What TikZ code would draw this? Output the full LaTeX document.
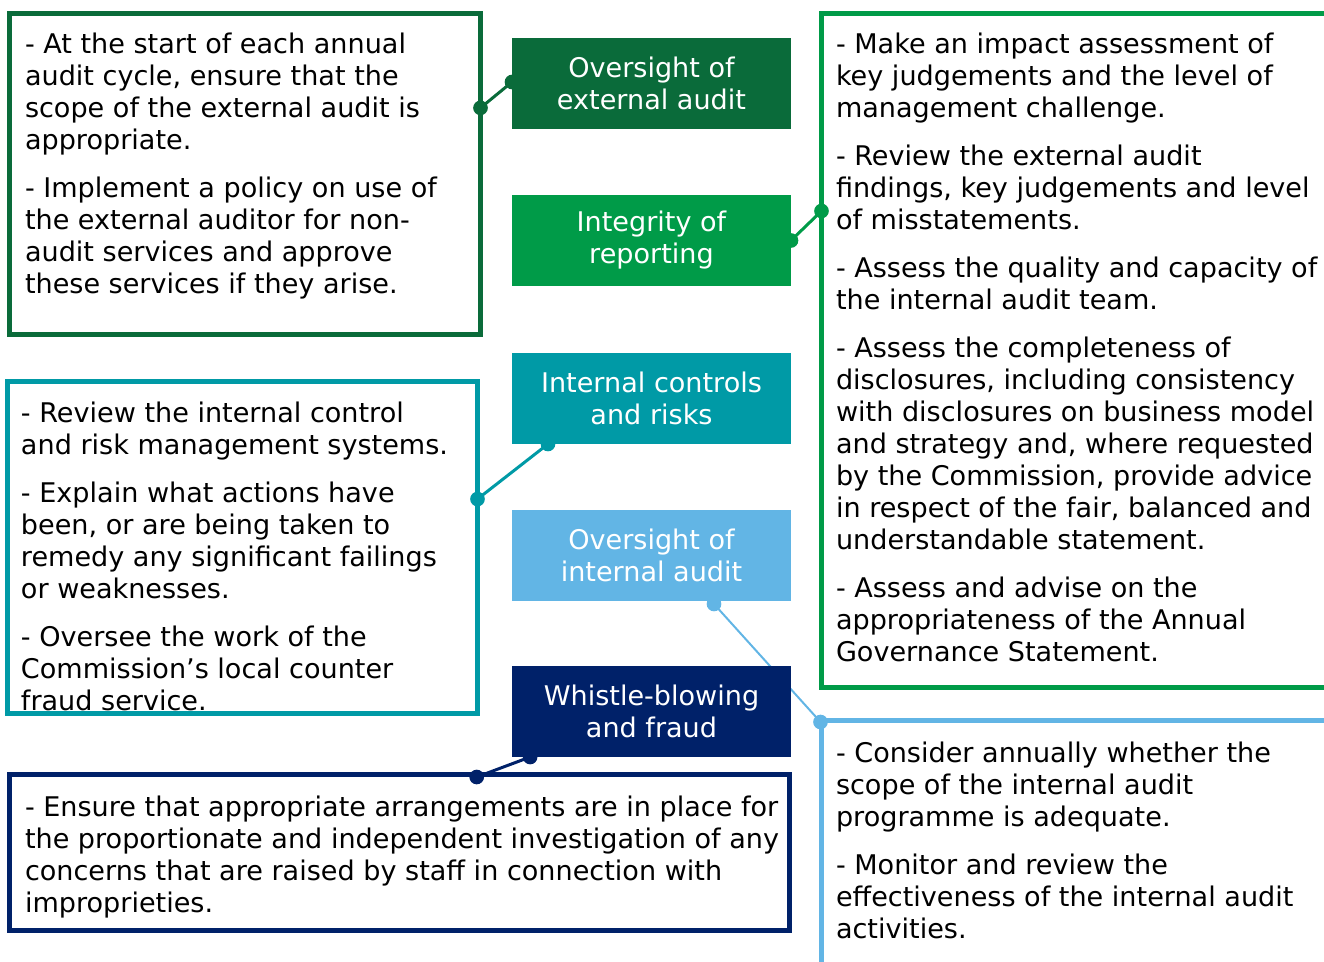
\documentclass[tikz,border=0pt]{standalone}
\usepackage{fontspec}
\setmainfont{DejaVu Sans}
\usetikzlibrary{calc}
\definecolor{dkgreen}{RGB}{10,107,58}
\definecolor{brgreen}{RGB}{0,155,72}
\definecolor{tealblue}{RGB}{0,154,166}
\definecolor{skyblue}{RGB}{98,181,229}
\definecolor{navyblue}{RGB}{0,33,105}
\newcommand{\cardfont}{\fontsize{20.3}{24}\selectfont}
\tikzset{
	infobox/.style={draw=#1, line width=3.75pt, anchor=north west, inner sep=0pt, outer sep=0pt},
	headbox/.style={fill=#1, text=white, minimum width=209.25pt, minimum height=68.25pt, inner sep=0pt, outer sep=0pt, align=center, font=\cardfont},
	bodytext/.style={anchor=north west, inner sep=0pt, outer sep=0pt, align=left, font=\cardfont, execute at begin node=\strut},
	link/.style={draw=#1, line width=2.25pt},
	joint/.style={circle, fill=#1, inner sep=0pt, minimum size=11pt}
}
\begin{document}
\begin{tikzpicture}[x=0.75pt, y=-0.75pt]
	\useasboundingbox (0,0) rectangle (1324,961);
	\clip (0,0) rectangle (1324,961);
	\node[infobox=dkgreen, minimum width=353.25pt, minimum height=240.75pt] (extbox) at (9.5,13.5) {};
	\node[infobox=brgreen, minimum width=397.5pt, minimum height=505.5pt] (repbox) at (821.5,13.5) {};
	\node[infobox=tealblue, minimum width=352.5pt, minimum height=249pt] (ctrlbox) at (7.5,381.5) {};
	\node[infobox=skyblue, minimum width=397.5pt, minimum height=225pt] (intbox) at (821.5,720.5) {};
	\node[infobox=navyblue, minimum width=585pt, minimum height=117pt] (fraudbox) at (9.5,774.5) {};
	\node[bodytext] (exttext) at (25,32.5) {- At the start of each annual\\audit cycle, ensure that the\\scope of the external audit is\\appropriate.\\[12pt]
		- Implement a policy on use of\\the external auditor for non-\\audit services and approve\\these services if they arise.};
	\node[bodytext] (reptext) at (836,32.5) {- Make an impact assessment of\\key judgements and the level of\\management challenge.\\[12pt]
		- Review the external audit\\findings, key judgements and level\\of misstatements.\\[12pt]
		- Assess the quality and capacity of\\the internal audit team.\\[12pt]
		- Assess the completeness of\\disclosures, including consistency\\with disclosures on business model\\and strategy and, where requested\\by the Commission, provide advice\\in respect of the fair, balanced and\\understandable statement.\\[12pt]
		- Assess and advise on the\\appropriateness of the Annual\\Governance Statement.};
	\node[bodytext] (ctrltext) at (21,401.5) {- Review the internal control\\and risk management systems.\\[12pt]
		- Explain what actions have\\been, or are being taken to\\remedy any significant failings\\or weaknesses.\\[12pt]
		- Oversee the work of the\\Commission’s local counter\\fraud service.};
	\node[bodytext] (inttext) at (836,741.5) {- Consider annually whether the\\scope of the internal audit\\programme is adequate.\\[12pt]
		- Monitor and review the\\effectiveness of the internal audit\\activities.};
	\node[bodytext] (fraudtext) at (25,795.5) {- Ensure that appropriate arrangements are in place for\\the proportionate and independent investigation of any\\concerns that are raised by staff in connection with\\improprieties.};
	\node[headbox=dkgreen] (exthead) at (651.5,83.5) {Oversight of\\external audit};
	\node[headbox=brgreen] (rephead) at (651.5,240.5) {Integrity of\\reporting};
	\node[headbox=tealblue] (ctrlhead) at (651.5,398.5) {Internal controls\\and risks};
	\node[headbox=skyblue] (inthead) at (651.5,555.5) {Oversight of\\internal audit};
	\coordinate (extA) at ($(exthead.west)+(0,-1.5)$);
	\coordinate (extB) at ($(extbox.north east)!0.294!(extbox.south east)$);
	\coordinate (repA) at (rephead.east);
	\coordinate (repB) at ($(repbox.north west)!0.293!(repbox.south west)$);
	\coordinate (ctrlA) at ($(ctrlhead.south west)!0.129!(ctrlhead.south east)$);
	\coordinate (ctrlB) at ($(ctrlbox.north east)!0.354!(ctrlbox.south east)$);
	\coordinate (intA) at ($(inthead.south west)!0.724!(inthead.south east)+(0,3)$);
	\coordinate (intB) at ($(intbox.north west)+(-1,1.5)$);
	\draw[link=dkgreen] (extA) -- (extB);
	\draw[link=brgreen] (repA) -- (repB);
	\draw[link=tealblue] (ctrlA) -- (ctrlB);
	\draw[link=skyblue, line width=1.5pt] (intA) -- (intB);
	\node[headbox=navyblue] (fraudhead) at (651.5,711.5) {Whistle-blowing\\and fraud};
	\coordinate (fraudA) at ($(fraudhead.south west)!0.065!(fraudhead.south east)$);
	\coordinate (fraudB) at ($(fraudbox.north west)!0.599!(fraudbox.north east)+(0,2.5)$);
	\draw[link=navyblue] (fraudA) -- (fraudB);
	\node[joint=dkgreen] (extdotA) at (extA) {};
	\node[joint=dkgreen] (extdotB) at (extB) {};
	\node[joint=brgreen] (repdotA) at (repA) {};
	\node[joint=brgreen] (repdotB) at (repB) {};
	\node[joint=tealblue] (ctrldotA) at (ctrlA) {};
	\node[joint=tealblue] (ctrldotB) at (ctrlB) {};
	\node[joint=skyblue] (intdotA) at (intA) {};
	\node[joint=skyblue] (intdotB) at (intB) {};
	\node[joint=navyblue] (frauddotA) at (fraudA) {};
	\node[joint=navyblue] (frauddotB) at (fraudB) {};
\end{tikzpicture}
\end{document}
